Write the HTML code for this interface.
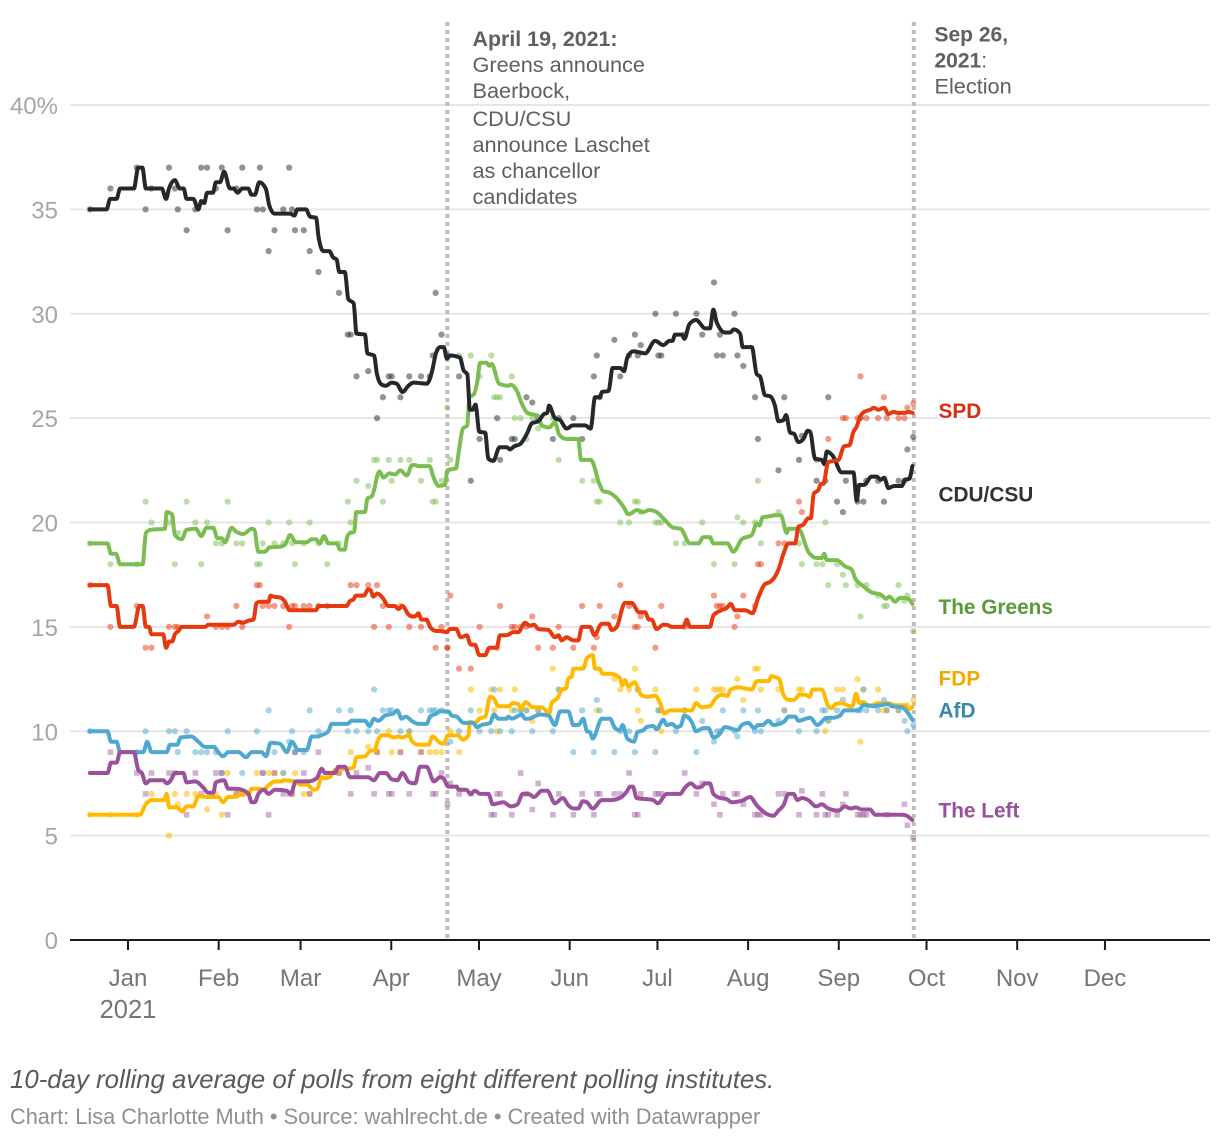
<!DOCTYPE html>
<html lang="en">
<head>
<meta charset="utf-8">
<title>German polls 2021</title>
<style>
html,body{margin:0;padding:0;background:#fff;}
body{width:1220px;height:1140px;overflow:hidden;font-family:"Liberation Sans",sans-serif;}
svg{display:block;position:absolute;left:0;top:0;}
svg text{font-family:"Liberation Sans",sans-serif;}
</style>
</head>
<body>
<svg id="chart" width="1220" height="1140" viewBox="0 0 1220 1140" xmlns="http://www.w3.org/2000/svg"></svg>
<script>
const yTickValues = [0,5,10,15,20,25,30,35,40];
const yTickLabels = ["0","5","10","15","20","25","30","35","40%"];
const monthDays = [0,31,59,90,120,151,181,212,243,273,304,334];
const monthLabels = ["Jan","Feb","Mar","Apr","May","Jun","Jul","Aug","Sep","Oct","Nov","Dec"];
const eventDays = [109,268.2];

const cduDays = [-13,-7.3,-6.1,-3.9,-2.7,2,3.5,4.9,6.1,11.5,13,14,16,17.7,19,20,22.3,24,25,26,27,29,30,31.4,32.8,34.8,36,37.4,39,41,42.2,43.3,44.8,47,48.2,50,55.3,56.8,57.8,60.8,62.1,64.2,65,66.7,68.7,70,71.2,72.1,74,75.2,77,78,80.9,81.7,84,84.9,86.6,88,90,91.7,93.7,95.7,97.4,102,103.7,105.1,106.5,107.8,108.8,110,113.3,114.5,115.8,116.7,117.6,118.6,119.9,121.9,123,124.7,126.8,129.3,130.4,131.8,133.8,136.3,137.8,140,142,143.1,143.7,145.7,147.5,149.7,151.8,156,157.9,159.4,161.1,161.7,164,165.4,168,169.3,170.4,172.5,176.5,179.9,182.7,184.8,185.8,186.7,189,189.9,191.6,193.9,197,198.6,199.8,200.9,203.8,205.5,206.8,208.9,209.8,212.9,214.6,215.7,217.4,219.1,220.8,222,223.7,224.6,226,227.3,228.8,230.5,232,232.8,234.5,236.8,237.6,238.5,240.5,243.6,247.6,248.7,249.6,251.2,253.8,255.5,256.9,258.1,259.5,261.4,264.1,265.2,266.7,267.7];
const cduValues = [35,35,35.5,35.5,36,36,37,37,36,36,35.5,36,36.4,36,36,35.5,35.5,35,35.4,35.3,35.8,35.8,36.3,36.3,36.8,36,36,35.8,36,36,35.7,35.7,36.3,36,35.2,34.8,34.8,34.7,35,35,34.65,34.6,33.7,33,33,32.7,32.6,32,32,30.7,30.5,29.05,29,28.1,28,27.15,26.6,26.55,26.7,26.65,26.25,26.55,26.7,26.65,27.2,28.1,28.4,28.4,27.85,28,27.9,27.3,27.1,25.4,25.4,25.65,24.35,24.3,23.05,22.95,23.6,23.6,23.5,23.65,23.75,24.3,24.75,24.85,25.2,25.25,25.6,25,24.9,24.5,24.65,24.65,24.5,26,26,26.25,26.3,27.4,27.4,27.25,27.9,28.2,28.1,28.7,28.5,28.7,28.7,29,29,28.8,29.5,29.7,29.3,29.3,30.2,29.6,29.1,29.1,29.25,29.05,28.4,28.4,27.1,27,26.1,26.05,25.6,24.85,24.9,25.15,24.3,24.25,23.85,24,24.4,24.35,23.05,23,22.8,23.4,23.2,22.4,22.4,21.05,21.8,21.8,22.2,22.2,22.05,22.15,21.65,21.75,21.75,22.05,22.1,22.7];
const cduPollDays = [-13,-6,3,6,8,14,16,17,20,23,25,27,30,32,34,37,39,44,45,46,48,50,53,55,56,57,60,62,65,72,75,76,78,82,85,87,89,90,93,96,100,103,104,105,107,109,113,117,120,126,127,131,132,136,138,140,145,147,152,155,159,160,161,166,168,171,173,174,175,180,181,182,187,190,194,196,200,201,202,203,207,208,210,214,215,222,224,229,230,235,238,239,242,244,245,249,250,251,252,256,258,263,265,266,268];
const cduPollValues = [35,36,37,35,36,37,36,35,34,35,37,37,36,37,34,36,37,35,37,35,33,34,35,37,35,34,34,33,32,31,29,29,27,27.25,25,26,27,27,26,27,27,27,28,31,29,28,27,22,24,25,23,24,24,26,25.75,25,24,25,25,24,27,28,26,28.75,27,28,29,28,28.5,30,28,28,30,29,30,29,31.5,28,29,28,30,28,27.5,26,24,22.5,26,23,24.15,22,22,26,21,20.5,22,21,25,21,22,22,21,22,22,23.5,24.1];

const greenDays = [-13,-7,-5.8,-4.1,-2.7,5,6.1,7.7,12.6,13.2,15,16,18.3,20,23.2,25,26.8,29.1,30.5,32,33.1,35.4,37,39.4,42.2,43.1,44.5,46.8,48.2,52.4,53.9,55.3,57.3,61,62.7,64.2,65.5,66.9,68.4,71.2,72.4,74,74.7,75.8,77.2,77.9,80.9,81.7,83.2,85.8,87.2,89.2,91.2,92.9,95.2,96.9,98,99.1,102.9,104.3,106,108.2,109,112,112.8,114.3,115.8,116.5,118.1,119.2,120.2,122.4,123.3,124.1,126.7,129.8,130.6,132.9,134.4,136.3,140,141.2,143.8,145.7,147.2,149.7,153.7,154.6,158,160.9,162.2,164,166.2,169.1,170.8,171.9,173.6,175.9,177.9,180.4,182.7,186.1,188.6,191.8,194.7,196.4,198.6,199.8,204.6,206.6,209.5,212.9,214.6,215.5,216.6,219.1,220.8,222.8,224.8,225.4,228.8,232.2,235.1,236.8,237.6,238.5,241.9,244.7,247,248.1,251,253.8,256.9,258.7,259.9,261.8,263.5,266.3,267.7];
const greenValues = [19,19,18.5,18.5,18,18,19.5,19.65,19.7,20.5,20.4,19.4,19.2,19.65,19.7,19.35,19.75,19.75,19.25,19.25,19.05,19.75,19.55,19.45,19.7,19.65,18.6,18.6,18.8,18.85,19,19.4,19.05,19.05,19.2,19.2,19,19.35,19,19,18.7,18.7,19.25,19.5,19.55,20.5,20.5,21.15,21.25,22.45,22.15,22.35,22.3,22.5,22.25,22.75,22.75,22.7,22.7,22.15,21.75,21.8,22.5,22.6,23.3,24.5,24.65,26,26.15,26.75,27.65,27.65,27.5,27.6,26.65,26.55,26.6,26.25,25.7,25.25,25.1,24.65,24.55,24.8,24.2,24,24,23,23,21.85,21.5,21.45,21.25,20.75,20.4,20.45,20.6,20.5,20.6,20.5,20.2,19.75,19.7,19,19,19.3,19.3,19,19,18.6,19.2,19.4,19.95,19.85,20.25,20.3,20.35,20.35,19.5,19.7,19.7,18.6,18.3,18.3,18.5,18.2,18.2,17.9,17.75,17.35,16.95,16.65,16.55,16.35,16.45,16.2,16.4,16.35,16.1];
const greenPollDays = [-13,-6,3,6,8,14,16,17,20,23,25,27,30,32,34,37,39,44,45,46,48,50,53,55,56,57,60,62,65,68,72,75,76,78,82,84,85,89,93,96,103,110,90,100,107,87,104,105,109,113,117,120,124,125,126,127,131,132,134,136,138,140,145,147,155,159,160,161,168,171,173,174,175,180,181,182,187,190,196,200,207,208,210,214,215,216,222,229,230,235,237,238,242,239,244,245,249,250,252,256,258,259,263,265,266,268];
const greenPollValues = [19,18,18,21,20,20,18,19.5,21,20,18,20,19,19,21,19,19,18,18,19,20,19,19,20,19,18,19,20,19,18,19,21,20,22,21.75,23,23,23,23,23,23,23,22,22,22,21,21,21,25.5,28,28,27,28,26,26,26,27,25,25,24,25,24.5,25,23,22,22,21,21,20,20,21,21,20.5,20,20,20,19,19,20,18,18,20.25,20,20,22,19,20.5,19,18,18,18,20,18,17,17.5,17,17,15.5,17,16.5,16,16,17,16.25,16.5,14.8];

const spdDays = [-13,-7,-5.8,-3.9,-2.7,2,3.9,5,6.1,7.2,8,12,13,14.1,15.1,16,17.2,18.3,26.3,27.4,36,37.7,39.1,41.1,42.8,43.9,45,47.9,48.7,49.6,52.1,53.6,55.1,62.1,64.2,65,74.6,75.8,76.9,77.8,80.5,82,82.8,83.7,85.1,86.9,88.9,91.1,92.3,93.7,95.7,96.8,98,99.1,100.2,101.9,103.1,105.3,106.5,108.8,109.9,112,113.6,115.6,117,118.4,119.9,121.9,123.3,125.8,127,129.3,131.5,133.2,135.5,137.2,138.6,140,143.5,145.7,146.9,148,149.7,152,153.7,154.9,157.7,159.2,161.7,164,165.1,166.8,169.6,171.9,174.4,176.5,177.8,178.7,180.4,182.7,183.9,185.6,189.5,190.7,191.8,198.6,199.8,202.6,204.3,205.7,207.2,210.6,213.1,215.1,217.4,219.1,220.8,222,223.7,225.4,227.7,228.8,230.5,232.2,233,234.1,235.6,236.5,237.3,239,242.5,244.4,246.2,247.6,248.7,249.8,251.2,253.3,254.6,256.1,258.1,259.5,261.2,262.9,265.2,266.3,267.8];
const spdValues = [17,17,16,16,15,15,16,16,15,15,14.65,14.65,14,14.3,14.3,14.65,14.8,15,15,15.1,15.1,15.25,15.2,15.3,15.35,16.15,16.2,16.2,16.5,16.45,16.4,16.2,15.8,15.8,15.8,16,16,16.25,16.3,16.5,16.5,16.8,16.75,16.45,16.6,16.4,16,16,15.85,16,15.6,15.5,15.5,15.65,15.35,15.35,15,14.8,14.8,14.75,14.9,14.9,14.5,14.6,14.15,14.15,13.65,13.65,14,14,14.6,14.6,14.75,14.75,15.2,15.05,15.1,14.9,14.85,14.5,14.6,14.35,14.5,14.35,14.35,15,15,14.6,15.15,15.15,14.85,15,16.15,16.15,15.7,15.7,15.35,15.35,14.9,15.1,15.1,15,15,15.35,15,15,15.55,15.8,15.9,16.1,15.8,15.8,15.65,16.4,17.05,17.15,17.4,17.75,18.5,19,19,19.8,19.9,20.2,20.2,21.4,21.55,21.85,21.85,22.9,23,23.65,23.7,24.35,24.6,25.05,25.3,25.4,25.5,25.4,25.5,25.2,25.3,25.25,25.25,25.3,25.25];
const spdPollDays = [-13,-6,3,6,8,14,16,17,27,30,32,34,37,39,44,45,46,48,50,53,55,56,57,60,62,65,68,76,78,82,85,84,87,89,93,96,100,105,107,109,110,113,109,117,120,126,127,131,132,134,136,138,140,145,147,152,155,159,160,161,166,168,171,173,174,175,180,182,190,200,201,202,203,207,208,210,214,215,216,222,224,229,230,235,239,244,245,249,250,252,256,258,259,263,265,266,268];
const spdPollValues = [17,15,16,14,14,15,15,15,15.5,15,15,15,16,15,17,17,16,16,16,16,15,16,16,16,16,16,16,17,17,17,17,15,16,15,16,15,15,14,15,14,16.5,13,14,13,15,14,16,15,15,15,15,15.5,14,14,15,14,16,14,14.5,16,15.5,17,16,15,15,15.5,14,16,15,16.5,16,16,16,15,15.5,16.5,16,18,18,19,19,21,20.5,23,24,25,25,25,27,25,25,26,25,25,25,25.5,25.7];

const fdpDays = [-13,4.1,5.8,8,12.3,13.2,14.1,16.8,18.5,20,22.3,24,26.8,30.8,32.5,34.2,36.5,39.1,41.1,42.2,44.8,46.2,47.9,50.2,52.4,53,57,58.7,61,63.5,64.6,66.1,67.2,68.9,70.6,76.9,78,80.9,82.6,84.3,84.9,86.6,88.9,90.6,92.3,93.4,96,96.8,99.1,102.5,104,106.5,107.6,109.3,112.8,114.1,116.2,116.7,118.4,119.9,121.9,123.6,124.7,126.4,129.8,131.5,133.2,134.1,135.8,138.1,141.2,143.8,144.6,146.9,148,149.5,150.3,151.4,152,155.4,156.6,158.6,159.4,160.9,162,164.5,167.9,168.7,169.6,170.8,172.8,175.1,177,179.9,181.6,183,185,190.7,192.4,193.9,195.8,198.6,200.4,202.6,204.6,205.7,208.3,212.9,214.6,218.6,219.7,220.8,222.3,223.7,225.4,227.3,229.1,231.1,232.6,233.7,236.8,239,240.2,241.5,243.6,246.4,247.2,248.5,249.6,251,252.7,256.1,259.5,261.8,265.2,266.3,267.7];
const fdpValues = [6,6,6.45,6.7,6.7,7,6.35,6.35,6.15,6.4,6.4,6.9,6.85,6.85,6.6,6.85,6.85,7,7,7.25,7.25,7.2,7.4,7.6,7.6,7.65,7.6,7.45,7.45,7.2,7.25,7.8,7.75,7.8,8.15,8.25,8.75,8.8,9.05,9.1,9.4,9.8,9.8,9.7,9.75,9.7,9.8,9.55,9.35,9.35,9.75,9.45,9.4,9.8,9.8,9.6,9.8,10.45,10.4,10.6,10.7,11.65,11.6,11.2,11.2,11.35,11.3,11.1,11.4,11.15,11.15,10.85,11.35,11.65,12,12.05,12.55,12.6,13,13,13.5,13.65,13,13,12.75,12.75,12.55,12.2,12.45,12.15,12.35,11.75,11.65,11.7,11.35,10.85,11,11,11,11.35,11.15,11.2,11.55,11.75,11.7,12,12.1,12,12.4,12.4,12.65,12.6,12.5,11.75,11.5,11.5,11.75,11.75,11.65,12,12,11.2,11.1,11.3,11.35,11.2,11.2,11.8,11.35,11.4,11.2,11.35,11.35,11.25,11.25,11.05,11.15];
const fdpPollDays = [-13,-6,3,8,14,16,17,20,23,27,30,32,34,37,39,44,48,50,53,57,56,60,62,68,72,76,82,85,89,90,93,96,100,103,105,107,110,113,117,120,124,125,126,127,131,132,134,136,138,140,145,147,160,166,168,171,173,174,174,175,180,181,182,190,194,200,201,202,203,208,210,214,215,216,222,224,229,230,238,239,242,244,249,250,251,256,258,259,263,266,268];
const fdpPollValues = [6,6,6,7,5,7,6.5,7,7,6.25,7,6,8,7,7,8,8,8,8,8,7,7,7,8,8,9,9.25,9,10,9,9,10,9,9,9,9,10,9,12,11,12,11,10,12,11,12,11,11,10.5,11,13,12,11,12.5,12,12,13,12,11,10.5,12,11,10,11,12,12,12,12,12,12.5,11.5,13,13,12,12,11,12,12,10,10.5,12,12,12.5,9.5,12,12,11,11,11,11.25,11.5];

const afdDays = [-13,-7,-5.8,-3.9,-2.7,5.2,6.6,8,13.2,14.3,16.8,18,21.7,24,26.3,29.4,30.8,32.5,34.2,37.7,40.3,42.2,45.6,47.1,48.7,51.9,54.2,55.9,58.1,61,62.7,65,65.8,68.4,69.5,74.9,76.3,80.9,82.4,84,85.4,87.7,90.6,91.9,93.4,94.8,96.8,99.1,101.9,103.1,105.3,106.5,109.3,110.5,112.2,114.5,117.9,119,120.7,122.4,123.6,124.9,126.4,129.3,129.8,131,134.4,135.5,136.6,140.6,143.5,145.7,147.5,150.3,152,153.7,155.4,156.6,157.7,158.6,161.7,164.5,166.2,167.9,168.8,170.4,172.7,173.8,175.9,177,179.3,180.4,182.7,183.9,185.6,187.3,188.6,189.9,192.4,193.9,196.4,198.1,199.8,201.5,203.8,206.6,208.1,209.5,211.7,213.7,215.1,216.6,218.6,220.3,222.3,224.2,225.4,227.7,228.8,232.8,235.3,238.5,240.7,243,244.5,249.3,251,252.7,254.4,259.5,260.6,264.1,266.3,267.7];
const afdValues = [10,10,9.5,9.5,9,9,9.5,9,9,9.35,9.35,9.7,9.75,9.5,9.25,9.25,9,8.8,9,9,8.75,9,9,8.8,9.45,9.4,9,9.5,9.1,9.1,9.75,9.75,9.8,10,10.35,10.35,10.5,10.5,10.25,10.6,10.5,10.75,10.85,11,10.6,10.7,10.5,10.35,10.35,10.7,10.85,10.95,10.95,10.75,10.7,10.4,10.4,10.2,10.3,10.35,10.4,10.8,10.6,10.6,10.7,10.6,10.8,10.6,10.6,10.8,10.75,10.3,10.95,10.95,10.3,10.3,10.6,10,9.95,9.65,10.6,10.6,10.15,10.05,10.3,9.65,9.5,9.95,10.05,10.2,10.25,10.1,10.55,10.3,10.35,10.2,10.25,10.75,10.45,10,10.15,10.15,9.7,9.8,10.2,10.1,10.05,10.3,10.4,10.15,10.3,10.3,10.5,10.3,10.35,10.5,10.7,10.7,10.5,10.65,10.3,10.65,10.65,10.75,11,11,11.25,11.25,11.2,11.3,11.2,11.15,10.85,10.55];
const afdPollDays = [-13,3,6,14,16,17,20,23,25,27,30,32,34,39,44,46,48,50,53,55,56,57,60,62,65,72,75,76,78,82,84,85,87,89,90,93,96,100,103,104,105,107,110,113,117,120,124,125,127,131,132,134,136,138,140,145,147,152,155,159,160,161,166,168,171,173,174,180,181,182,187,190,194,196,200,201,202,203,207,208,210,214,215,216,222,224,229,230,235,237,238,239,242,244,249,250,251,252,256,258,259,263,265,266,268];
const afdPollValues = [10,9,10,10,10,9,10,9,9,9,9,8,10,8,10,8,11,9,8,9.5,10,9,9,11,10,11,10,11,10,10,12,10,11,11,11,10,10,11,11,11,11,11,9.5,10,11,10,10,12,10,10,11,11,11,10,11,10,12,9,11,9,11.5,11,9,10,10,9,12,9,11,11,10,11,9,10.5,9.5,10,10,11,10,9.75,11,10,11,10,10.5,11,10,11,10,11,11,10.5,11,11.5,11,11,12,11,11,11.5,11,11,10.5,10,10.3];

const leftDays = [-13,-7,-5.8,-3.9,-2.7,2,3.5,4.7,6.1,7.5,12.1,13.2,14.6,16,18.9,20,22.9,25.7,27.4,29.1,30,32.8,34.2,36.5,38.8,41.1,42.2,43.3,44.5,46.4,47.9,50.2,54.2,55.5,57.3,61.5,64.4,66.1,67.2,70.6,71.8,74,75.8,82,83.9,86,88,90,91.9,93.7,96,98,99.7,101.9,104.4,106.5,107.6,109.3,112.2,112.8,115.4,117,118.4,120.2,123,124.5,128.1,130.7,132.9,134.7,136.6,138.6,141.2,143.1,145.7,148.4,150.3,152,153.7,155.2,156.6,158.6,161.7,164.5,167.9,170.2,171.4,172.3,173.6,179.3,180.8,183.9,188.4,190.1,192.1,194.1,195.8,197,198.6,199.8,202.1,204.3,206,210,212.3,214.6,218.6,220.3,222,223.7,225.4,227.1,228.5,230,232.2,234.8,236.8,239,242.5,244.7,246.5,248.5,250.4,253.3,255,264.1,265.8,267.7];
const leftValues = [8,8,8.5,8.5,9,9,8.15,8,7.5,7.65,7.65,7.5,7.65,8,8,7.55,7.6,7.3,7.05,7.05,7.55,7.65,7.25,7.25,7.2,7,6.6,6.6,7,7.2,7,7.2,7.15,7,7.6,7.6,7.75,8.2,8,8,8.3,8.3,7.8,7.8,7.65,8,8,7.7,7.65,8,7.55,7.5,8.3,8.3,7.6,7.8,7.75,7.35,7.35,7.2,7.2,7,7.15,7,7,6.5,6.6,6.4,6.5,7,7,6.85,7.15,7.15,6.55,6.8,6.45,6.3,6.3,6.65,6.6,6.3,6.7,6.7,6.8,7.1,7.35,7.35,6.8,6.7,6.55,7,7,7.3,7.5,7.3,7.35,7.5,7.5,7,6.8,6.75,6.6,6.7,6.85,6.45,6,5.95,6.2,6.45,7,7,6.7,6.8,6.7,6.4,6.5,6.3,6.2,6.4,6.3,6.35,6.25,6.25,6,6,5.95,5.75];
const leftPollDays = [-6,3,6,8,14,16,20,23,25,30,32,34,37,39,46,48,50,53,55,56,57,60,62,65,72,76,78,82,84,85,89,90,93,96,100,104,105,107,109,110,113,117,124,125,126,127,131,134,136,138,140,145,147,152,155,159,160,161,166,168,171,173,174,175,180,181,182,190,194,196,200,202,203,207,208,210,214,215,216,222,224,229,230,235,237,238,239,242,244,245,249,250,251,252,259,265,266,268];
const leftPollValues = [9,8,7,8,8,8,6,8,7,8,8,6,7,7,8,6,8,7,7,7,9,8,7,9,8,7,8,8.25,7,9,7,7,9,7,9,7,7,8,6.5,7.5,7,7,6,6,7,7,6,8,7,6.25,7.5,6,7,6,7,6,7,7,7,7,8,6,6,7,7,7,7,8,7,7.5,6.5,6,7,7,7,6.5,6,6,6,7,7,6,7.15,6,7,6,6,6,6.5,7,6,6,6,6,6,6.5,5.5,4.9];

const partyNames = ["spd","cdu-csu","the-greens","fdp","afd","the-left"];
const endLabels = ["SPD","CDU/CSU","The Greens","FDP","AfD","The Left"];
const endLabelValues = [25,21,15.62,12.2,10.65,5.87];

const svgNS = "http://www.w3.org/2000/svg";
const chart = document.getElementById("chart");
const X0 = 128, PXDAY = 2.93, TICKPXDAY = 2.925, Y0 = 940, PXUNIT = 20.875;
function xScale(day){ return X0 + PXDAY * day; }
function xTick(day){ return X0 + TICKPXDAY * day; }
function yScale(v){ return Y0 - PXUNIT * v; }
function mk(tag, attrs, parent){
  const el = document.createElementNS(svgNS, tag);
  for (const k in attrs) el.setAttribute(k, attrs[k]);
  (parent || chart).appendChild(el);
  return el;
}

// gridlines and y labels
yTickValues.forEach(function(v,i){
  if (v !== 0) {
    const line = mk("line",{x1:70,x2:1210,y1:yScale(v),y2:yScale(v),stroke:"#e6e6e6","stroke-width":2});
    
    
  }
  const t = mk("text",{x:58,y:yScale(v)+9,"text-anchor":"end","font-size":24,fill:"#a6a6a6"});
  t.textContent = yTickLabels[i];
  
  
});

// event markers
eventDays.forEach(function(d,i){
  const line = mk("line",{x1:xScale(d),x2:xScale(d),y1:22,y2:940,stroke:"#bdbdbd","stroke-width":4,"stroke-dasharray":"4 4"});
  
  
});

// x axis
const axis = mk("line",{x1:70,x2:1210,y1:Y0,y2:Y0,stroke:"#1a1a1a","stroke-width":2});


monthDays.forEach(function(d,i){
  const tick = mk("line",{x1:xTick(d),x2:xTick(d),y1:Y0,y2:Y0+10,stroke:"#1a1a1a","stroke-width":2});
  
  
  const t = mk("text",{x:xTick(d),y:986,"text-anchor":"middle","font-size":24,fill:"#757575"});
  t.textContent = monthLabels[i];
  
  
});
const yearLabel = mk("text",{x:xTick(0),y:1018,"text-anchor":"middle","font-size":25.5,fill:"#757575"});
yearLabel.textContent = "2021";



// poll dots
function drawRoundPolls(days, vals, color, op, name){
  const g = mk("g",{fill:color,"fill-opacity":op});
  
  
  days.forEach(function(d,i){
    const c = mk("circle",{cx:xScale(d),cy:yScale(vals[i]),r:3.1},g);
    
    
  });
}
function drawSquarePolls(days, vals, color, op, name){
  const g = mk("g",{fill:color,"fill-opacity":op});
  
  
  days.forEach(function(d,i){
    const r = mk("rect",{x:xScale(d)-2.8,y:yScale(vals[i])-2.8,width:5.6,height:5.6},g);
    
    
  });
}
drawRoundPolls(greenPollDays, greenPollValues, "#7cbd52", 0.5, "greens-polls");
drawRoundPolls(spdPollDays, spdPollValues, "#e8380d", 0.5, "spd-polls");
drawRoundPolls(fdpPollDays, fdpPollValues, "#ffba00", 0.55, "fdp-polls");
drawRoundPolls(afdPollDays, afdPollValues, "#4ea8cf", 0.5, "afd-polls");
drawSquarePolls(leftPollDays, leftPollValues, "#9b519c", 0.45, "left-polls");
drawRoundPolls(cduPollDays, cduPollValues, "#25282b", 0.5, "cdu-polls");

// rolling-average lines (monotone curve through the values)
function monotonePath(xs, ys){
  const n = xs.length;
  const h = [], s = [], m = [];
  for (let i = 0; i < n - 1; i++) {
    h[i] = xs[i + 1] - xs[i];
    s[i] = (ys[i + 1] - ys[i]) / (h[i] || 1);
  }
  m[0] = s[0];
  m[n - 1] = s[n - 2];
  for (let i = 1; i < n - 1; i++) {
    if (s[i - 1] * s[i] <= 0) { m[i] = 0; continue; }
    const p = (s[i - 1] * h[i] + s[i] * h[i - 1]) / (h[i - 1] + h[i]);
    m[i] = (Math.sign(s[i - 1]) + Math.sign(s[i])) * Math.min(Math.abs(s[i - 1]), Math.abs(s[i]), 0.5 * Math.abs(p));
  }
  let d = "M" + xs[0].toFixed(1) + "," + ys[0].toFixed(1);
  for (let i = 0; i < n - 1; i++) {
    const dx = h[i] / 3;
    d += "C" + (xs[i] + dx).toFixed(1) + "," + (ys[i] + m[i] * dx).toFixed(1) + " " +
         (xs[i + 1] - dx).toFixed(1) + "," + (ys[i + 1] - m[i + 1] * dx).toFixed(1) + " " +
         xs[i + 1].toFixed(1) + "," + ys[i + 1].toFixed(1);
  }
  return d;
}
function drawLine(days, vals, color, name){
  const p = mk("path",{d:monotonePath(days.map(xScale), vals.map(yScale)),fill:"none",stroke:color,"stroke-width":4,"stroke-linejoin":"round","stroke-linecap":"round"});
  
  
}
drawLine(fdpDays, fdpValues, "#ffba00", "fdp-line");
drawLine(afdDays, afdValues, "#4ea8cf", "afd-line");
drawLine(leftDays, leftValues, "#9b519c", "left-line");
drawLine(greenDays, greenValues, "#7cbd52", "greens-line");
drawLine(cduDays, cduValues, "#25282b", "cdu-line");
drawLine(spdDays, spdValues, "#e8380d", "spd-line");

// direct labels
const endLabelColors = ["#dd2c12","#2f3336","#5a9a3c","#eeab00","#3a87a8","#96509c"];
endLabels.forEach(function(txt,i){
  const t = mk("text",{x:938.5,y:yScale(endLabelValues[i]),"font-size":20.8,"font-weight":"bold",fill:endLabelColors[i],stroke:"#fff","stroke-width":5,"paint-order":"stroke","stroke-linejoin":"round"});
  t.textContent = txt;
  
  
});

// annotations
const annoA = ["April 19, 2021:","Greens announce","Baerbock,","CDU/CSU","announce Laschet","as chancellor","candidates"];
const annoABase = [46,72,98,126,152,178,204];
annoA.forEach(function(txt,i){
  const t = mk("text",{x:472.5,y:annoABase[i],"font-size":i===0?21.4:21.7,"font-weight":i===0?"bold":"normal",fill:"#5f5f5f",stroke:"#fff","stroke-width":4,"paint-order":"stroke","stroke-linejoin":"round"});
  t.textContent = txt;
  
  
});
const sepA = mk("text",{x:934.5,y:41.5,"font-size":21,"font-weight":"bold",fill:"#5f5f5f"});
sepA.textContent = "Sep 26,";


const sepB = mk("text",{x:934.5,y:67.5,"font-size":21,fill:"#5f5f5f"});
const sepBYear = mk("tspan",{"font-weight":"bold"},sepB);
sepBYear.textContent = "2021";


const sepBColon = mk("tspan",{},sepB);
sepBColon.textContent = ":";




const sepC = mk("text",{x:934.5,y:93.5,"font-size":21.7,fill:"#5f5f5f",stroke:"#fff","stroke-width":4,"paint-order":"stroke"});
sepC.textContent = "Election";



// notes
const note = mk("text",{x:10,y:1088,"font-size":25.8,"font-style":"italic",fill:"#5a5a5a"});
note.textContent = "10-day rolling average of polls from eight different polling institutes.";


const source = mk("text",{x:10,y:1124,"font-size":21.75,fill:"#909090"});
source.textContent = "Chart: Lisa Charlotte Muth \u2022 Source: wahlrecht.de \u2022 Created with Datawrapper";


</script>
</body>
</html>
